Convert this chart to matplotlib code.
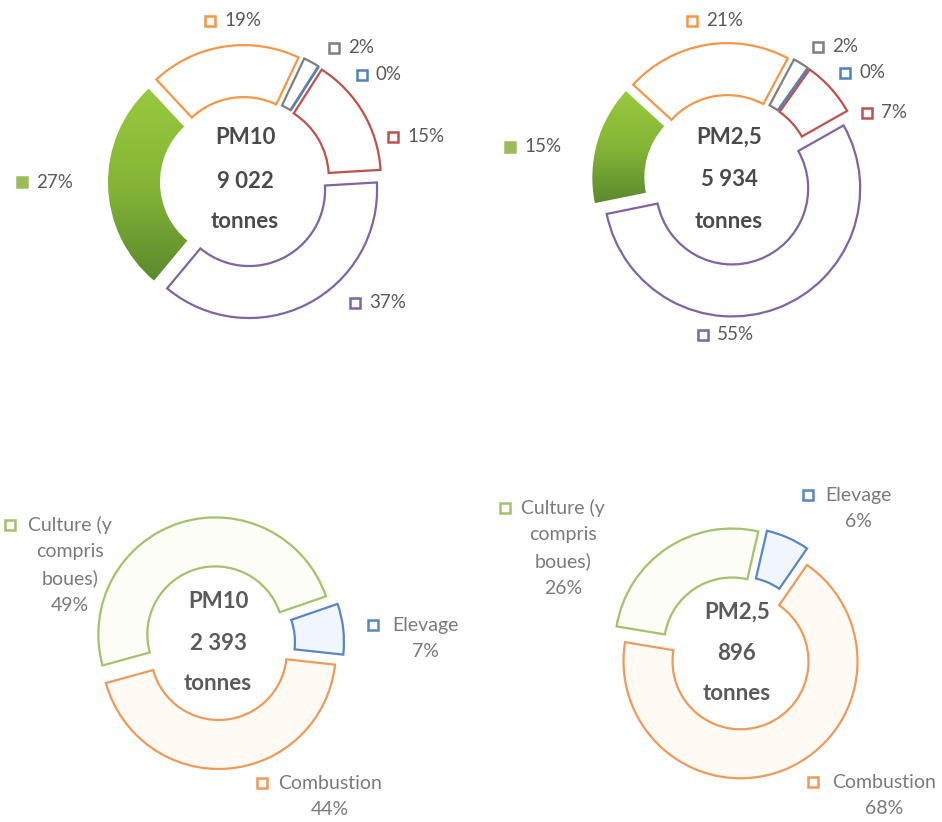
import numpy as np
import matplotlib.pyplot as plt
from matplotlib.colors import LinearSegmentedColormap

plt.rcParams['font.family'] = ['Lato', 'DejaVu Sans']

W, H = 942, 822

# ---- data (percent shares) ----
# top row: all emission sectors, order clockwise from the orange slice
top_edge_colors = ['#F79646', '#7F7F7F', '#4F81BD', '#C0504D', '#8064A2', '#9BBB59']
pm10_all = [19, 2, 0, 15, 37, 27]
pm25_all = [21, 2, 0, 7, 55, 15]
pm10_all_total = "9 022"
pm25_all_total = "5 934"

# bottom row: agriculture detail
agri_labels = [["Culture (y", "compris", "boues)"], ["Elevage"], ["Combustion"]]
pm10_agri = [49, 7, 44]
pm25_agri = [26, 6, 68]
pm10_agri_total = "2 393"
pm25_agri_total = "896"
agri_edge_colors = ['#A3C26B', '#5A86C0', '#EF9A5C']
agri_face_colors = ['#FBFDF6', '#F1F6FC', '#FFFAF4']

# ---- layout (image pixels, y down) ----
def Y(y):
    return H - y

green_cmap = LinearSegmentedColormap.from_list('g', ['#97CA3E', '#84B536', '#5C892D'])

fig = plt.figure(figsize=(W / 100, H / 100), dpi=100)
ax = fig.add_axes([0, 0, 1, 1])


def donut(values, center, start_compass, R, r, expl, edges, faces, lw):
    cx, cy = center
    wedges, _ = ax.pie(values, startangle=90 - start_compass, counterclock=False,
                       radius=R, center=(cx, Y(cy)), explode=[expl] * len(values),
                       wedgeprops=dict(width=R - r, linewidth=lw, joinstyle='miter'),
                       frame=True)
    for w, ec, fc in zip(wedges, edges, faces):
        w.set_edgecolor(ec)
        w.set_facecolor(fc)
    return wedges


def gradient_fill(w):
    x0, y0, x1, y1 = w.get_path().get_extents(w.get_patch_transform()).extents
    grad = np.linspace(0, 1, 256).reshape(-1, 1)
    im = ax.imshow(grad, cmap=green_cmap, extent=(x0, x1, y0, y1),
                   origin='upper', aspect='auto', zorder=0.5)
    im.set_clip_path(w)
    w.set_facecolor('none')
    w.set_edgecolor('none')


def center_text(center, total, name, color, offsets):
    cx, cy = center
    for txt, dy in zip([name, total, "tonnes"], offsets):
        ax.text(cx, Y(cy + dy), txt, ha='center', va='center', fontsize=16,
                fontweight='bold', color=color)


def key(x, y, color, filled=False):
    ax.plot([x], [Y(y)], marker='s', ms=7.3, mew=1.8, mec=color,
            mfc=color if filled else 'white', ls='none', zorder=3)


# ---- top row ----
top_faces = ['white'] * 5 + ['#9BBB59']
tl_center, tr_center = (245, 182), (729, 180)
w1 = donut(pm10_all, tl_center, 317, 128, 76, 9, top_edge_colors, top_faces, 1.6)
w2 = donut(pm25_all, tr_center, 312.5, 128, 76, 9, top_edge_colors, top_faces, 1.6)
gradient_fill(w1[-1])
gradient_fill(w2[-1])
center_text(tl_center, pm10_all_total, "PM10", '#4A4A4A', [-44, 0, 40])
center_text(tr_center, pm25_all_total, "PM2,5", '#4A4A4A', [-43, 0, 41])

tl_keys = [(210, 21), (334, 48), (362, 75), (393, 137), (355, 303), (22, 182)]
tr_keys = [(692, 21), (818, 47), (845, 73), (867, 113), (703, 335), (510, 147)]
for vals, keys in [(pm10_all, tl_keys), (pm25_all, tr_keys)]:
    for i, (v, (kx, ky)) in enumerate(zip(vals, keys)):
        key(kx, ky, top_edge_colors[i], filled=(i == len(vals) - 1))
        ax.text(kx + 14, Y(ky), f"{v}%", ha='left', va='center', fontsize=13.5,
                color='#595959')

# ---- bottom row ----
bl_center, br_center = (218, 643), (737, 653)
donut(pm10_agri, bl_center, 254.6, 117, 68, 9, agri_edge_colors, agri_face_colors, 1.6)
donut(pm25_agri, br_center, 279.4, 117, 68, 9, agri_edge_colors, agri_face_colors, 1.6)
center_text(bl_center, pm10_agri_total, "PM10", '#5A5A5A', [-41, 0, 40])
center_text(br_center, pm25_agri_total, "PM2,5", '#5A5A5A', [-41, 0, 40])

# (key x, key y, text centre x) per category
bl_labels = [(10, 525, 70), (373, 625, 425), (262, 783, 330)]
br_labels = [(505, 508, 563), (808, 495, 858), (813, 782, 884)]
line_gap = 26.7
for vals, spots in [(pm10_agri, bl_labels), (pm25_agri, br_labels)]:
    for i, (v, (kx, ky, tx)) in enumerate(zip(vals, spots)):
        key(kx, ky, agri_edge_colors[i])
        lines = agri_labels[i] + [f"{v}%"]
        for j, line in enumerate(lines):
            ax.text(tx, Y(ky + j * line_gap), line, ha='center', va='center',
                    fontsize=14, color='#7A7A7A')

ax.set_xlim(0, W)
ax.set_ylim(0, H)
ax.set_aspect('equal')
ax.set_axis_off()
fig.savefig("out.png", dpi=100)
